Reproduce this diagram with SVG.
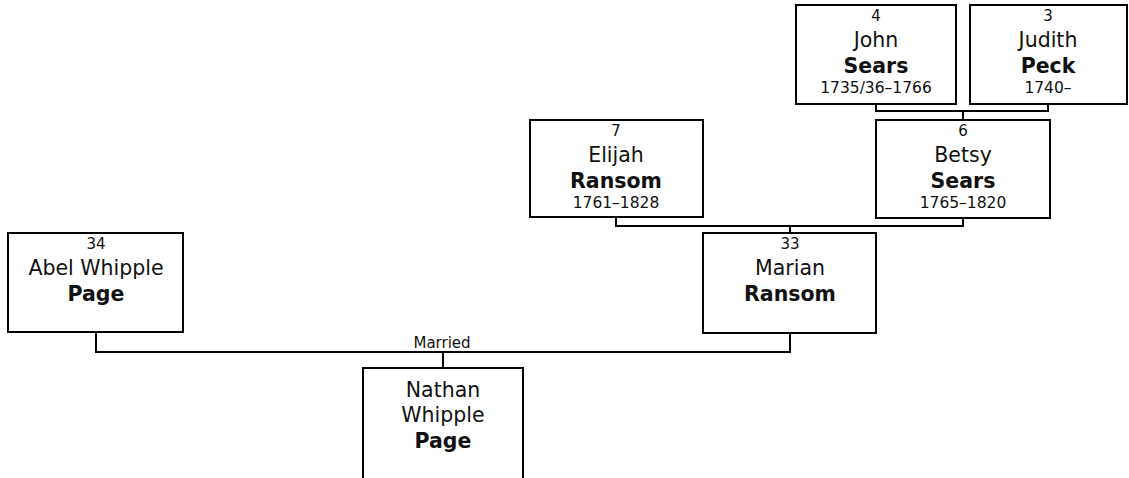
<svg xmlns="http://www.w3.org/2000/svg" width="1129" height="478" viewBox="0 0 1129 478">
<style>
.box{fill:#fff;stroke:#000;stroke-width:2}
.con{fill:none;stroke:#000;stroke-width:2}
text{font-family:"DejaVu Sans",Verdana,sans-serif;fill:#111;text-anchor:middle}
.num{font-size:15px}
.nm{font-size:20.5px}
.sn{font-size:20.5px;font-weight:bold}
.dt{font-size:15.5px}
.lbl{font-size:15px}
</style>
<rect width="1129" height="478" fill="#fff"/>
<g id="connectors">
<path class="con" d="M876,104V111H1048V104M963,111V120"/>
<path class="con" d="M616,217V226H963V218M790,226V233"/>
<path class="con" d="M96,332V352H790V333M443,352V368"/>
<text class="lbl" x="442" y="348">Married</text>
</g>
<g id="n4">
<rect class="box" x="796" y="5" width="160" height="99"/>
<text class="num" x="876" y="21">4</text>
<text class="nm" x="876" y="47">John</text>
<text class="sn" x="876" y="73">Sears</text>
<text class="dt" x="876" y="93">1735/36–1766</text>
</g>
<g id="n3">
<rect class="box" x="970" y="5" width="157" height="99"/>
<text class="num" x="1048" y="21">3</text>
<text class="nm" x="1048" y="47">Judith</text>
<text class="sn" x="1048" y="73">Peck</text>
<text class="dt" x="1048" y="93">1740–</text>
</g>
<g id="n6">
<rect class="box" x="876" y="120" width="174" height="98"/>
<text class="num" x="963" y="136">6</text>
<text class="nm" x="963" y="162">Betsy</text>
<text class="sn" x="963" y="188">Sears</text>
<text class="dt" x="963" y="208">1765–1820</text>
</g>
<g id="n7">
<rect class="box" x="530" y="120" width="173" height="97"/>
<text class="num" x="616" y="136">7</text>
<text class="nm" x="616" y="162">Elijah</text>
<text class="sn" x="616" y="188">Ransom</text>
<text class="dt" x="616" y="208">1761–1828</text>
</g>
<g id="n33">
<rect class="box" x="703" y="233" width="173" height="100"/>
<text class="num" x="790" y="249">33</text>
<text class="nm" x="790" y="275">Marian</text>
<text class="sn" x="790" y="301">Ransom</text>
</g>
<g id="n34">
<rect class="box" x="8" y="233" width="175" height="99"/>
<text class="num" x="96" y="249">34</text>
<text class="nm" x="96" y="275">Abel Whipple</text>
<text class="sn" x="96" y="301">Page</text>
</g>
<g id="n1">
<rect class="box" x="363" y="368" width="160" height="130"/>
<text class="nm" x="443" y="397">Nathan</text>
<text class="nm" x="443" y="422">Whipple</text>
<text class="sn" x="443" y="448">Page</text>
</g>
</svg>
